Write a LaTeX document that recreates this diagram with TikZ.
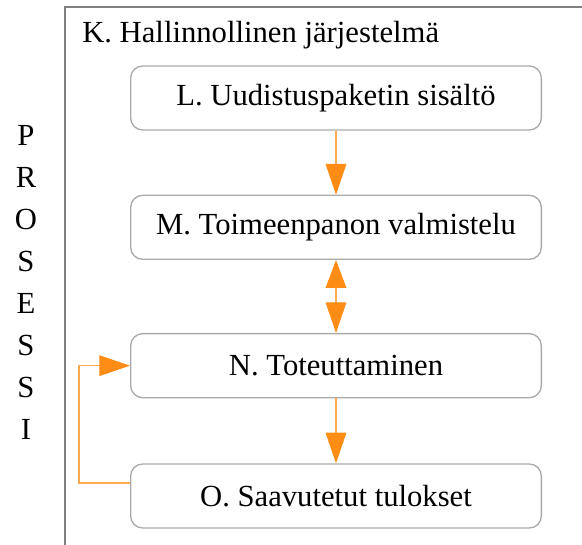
\documentclass[tikz,border=0pt]{standalone}
\usepackage{fontspec}
\setmainfont{Liberation Serif}
\usepackage{xcolor}
\usetikzlibrary{arrows.meta,positioning}
\definecolor{framegray}{RGB}{128,128,128}
\definecolor{boxgray}{RGB}{170,170,170}
\definecolor{lineorange}{RGB}{255,170,80}
\definecolor{tiporange}{RGB}{255,140,20}

\begin{document}
\begin{tikzpicture}[x=0.75pt,y=0.75pt,
        every node/.style={font=\fontsize{23}{27.6}\selectfont},
        box/.style={rectangle,rounded corners=9pt,draw=boxgray,line width=1pt,
          minimum width=308pt,minimum height=48pt,align=center},
        frame/.style={draw=framegray,line width=1.1pt},
        arrow/.style={-{Triangle[length=23pt,width=15.5pt,color=tiporange]},draw=lineorange,line width=0.8pt},
        twoway/.style={{Triangle[length=21pt,width=15.5pt,color=tiporange]}-{Triangle[length=23pt,width=15.5pt,color=tiporange]},
          draw=lineorange,line width=0.8pt}]
        \useasboundingbox (0,0) rectangle (582,-545);
        \draw[frame] (582,-7) -- (65,-7) -- (65,-545);
        \node[anchor=base west,inner sep=0pt] (title) at (82,-43) {K. Hallinnollinen järjestelmä};
        % vertical word on the left
        \foreach \ch [count=\i] in {P,R,O,S,E,S,S,I}
          \node (p\i) at (26,{-135-42*(\i-1)}) {\ch};
        \node[box] (l) at (336,-98) {L. Uudistuspaketin sisältö};
        \node[box,below=48pt of l] (m) {M. Toimeenpanon valmistelu};
        \node[box,below=54.75pt of m] (n) {N. Toteuttaminen};
        \node[box,below=48.75pt of n] (o) {O. Saavutetut tulokset};
        \draw[arrow] (l) -- (m);
        \draw[twoway] (m) -- (n);
        \draw[arrow] (n) -- (o);
        \draw[arrow] ([yshift=9.75pt]o.west) -- ++(-51,0) |- (n.west);
      \end{tikzpicture}
\end{document}
